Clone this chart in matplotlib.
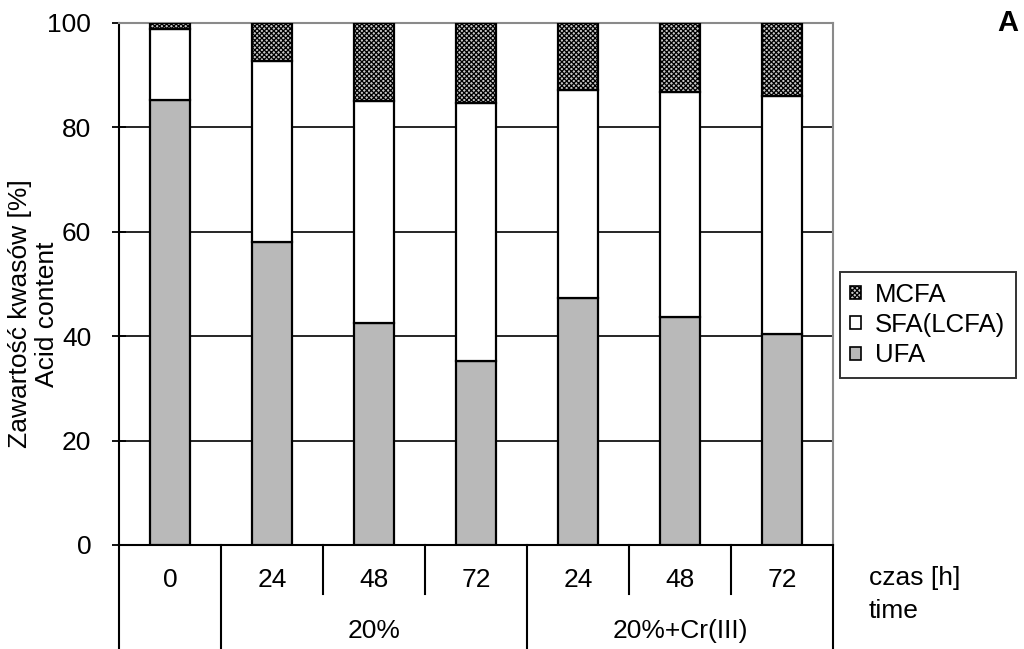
import matplotlib
matplotlib.use("Agg")
import matplotlib.pyplot as plt
from matplotlib.lines import Line2D
import matplotlib.transforms as mtransforms

plt.rcParams['font.family'] = ['Liberation Sans', 'DejaVu Sans']
plt.rcParams['hatch.linewidth'] = 0.9

time_labels = ["0", "24", "48", "72", "24", "48", "72"]
group_labels = ["20%", "20%+Cr(III)"]
ufa = [85.2, 58.0, 42.5, 35.2, 47.3, 43.7, 40.5]
sfa = [13.7, 34.7, 42.6, 49.5, 39.9, 43.1, 45.5]
mcfa = [1.1, 7.3, 14.9, 15.3, 12.8, 13.2, 14.0]

FS = 19

fig = plt.figure(figsize=(10.24, 6.49), dpi=100)
ax = fig.add_axes([119/1024, 1-545/649, (833-119)/1024, (545-23)/649])

x = list(range(len(time_labels)))
w = 0.39
bu = ax.bar(x, ufa, w, color='#b9b9b9', edgecolor='black', linewidth=1.6, label='UFA', zorder=3)
bs = ax.bar(x, sfa, w, bottom=ufa, color='white', edgecolor='black', linewidth=1.6, label='SFA(LCFA)', zorder=3)
bot2 = [a + b for a, b in zip(ufa, sfa)]
bm = ax.bar(x, mcfa, w, bottom=bot2, color='#c8c8c8', edgecolor='black', hatch='xxxxxxx',
            linewidth=1.6, label='MCFA', zorder=3)

ax.set_xlim(-0.5, len(x) - 0.5)
ax.set_ylim(0, 100)
ax.set_yticks([0, 20, 40, 60, 80, 100])
ax.tick_params(axis='y', labelsize=FS, direction='inout', length=10, width=1.3, pad=15)
ax.set_xticks([])
ax.yaxis.grid(True, color='black', linewidth=1.2, zorder=0)
ax.set_axisbelow(True)
for s in ['left', 'bottom']:
    ax.spines[s].set_color('black')
    ax.spines[s].set_linewidth(1.5)
for s in ['top', 'right']:
    ax.spines[s].set_color('#8a8a8a')
    ax.spines[s].set_linewidth(1.5)

fig.text(20/1024, 1 - 314/649, "Zawartość kwasów [%]", rotation=90, ha='center', va='center', fontsize=FS)
fig.text(47/1024, 1 - 314/649, "Acid content", rotation=90, ha='center', va='center', fontsize=FS)

# multi-level x axis
trans = mtransforms.blended_transform_factory(ax.transData, fig.transFigure)
y_axis = 1 - 545/649
y_short = 1 - 594/649
y_long = 0.0
long_seps = [-0.5, 0.5, 3.5, 6.5]
for i in range(len(x) + 1):
    xs = i - 0.5
    yb = y_long if xs in long_seps else y_short
    ax.add_line(Line2D([xs, xs], [y_axis, yb], transform=trans, color='black',
                       linewidth=1.5, clip_on=False))
for i, lab in enumerate(time_labels):
    ax.text(i, 1 - 580/649, lab, transform=trans, ha='center', va='center', fontsize=FS)
ax.text(2.0, 1 - 631/649, group_labels[0], transform=trans, ha='center', va='center', fontsize=FS)
ax.text(5.0, 1 - 631/649, group_labels[1], transform=trans, ha='center', va='center', fontsize=FS)
fig.text(869/1024, 1 - 578/649, "czas [h]", ha='left', va='center', fontsize=FS)
fig.text(869/1024, 1 - 611/649, "time", ha='left', va='center', fontsize=FS)

fig.text(1008/1024, 1 - 23/649, "A", ha='center', va='center', fontsize=21, fontweight='bold')

leg = ax.legend(handles=[bm, bs, bu], labels=['MCFA', 'SFA(LCFA)', 'UFA'],
                loc='center left', bbox_to_anchor=(840/1024, 1 - 325/649),
                bbox_transform=fig.transFigure, fontsize=18.5, frameon=True, fancybox=False,
                edgecolor='black', handlelength=0.42, handleheight=0.42, handletextpad=0.55,
                borderpad=0.4, labelspacing=0.25, borderaxespad=0)
leg.get_frame().set_linewidth(1.4)
for p in leg.get_patches():
    p.set_linewidth(1.2)

fig.savefig("out.png", dpi=100)
